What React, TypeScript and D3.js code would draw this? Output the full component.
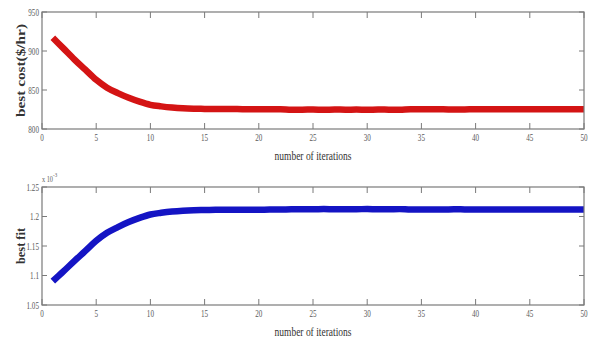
import React from "react";
import * as d3 from "d3";

const iterations = d3.range(1, 51);
const bestCost = [
  917, 903, 889, 876, 863, 853, 846, 840, 835, 831,
  829, 827.5, 826.5, 826, 825.8, 825.6, 825.5, 825.5, 825.4, 825.4,
  825.3, 825.3, 824.8, 824.8, 825, 824.6, 825, 824.7, 824.9, 824.6,
  825, 824.8, 824.7, 825.2, 825.2, 825.2, 825.2, 824.9, 825.1, 825.2,
  825.2, 825.2, 825.2, 825.2, 825.2, 825.2, 825.2, 825.2, 825.2, 825.2,
];
const bestFit = [
  1.0905, 1.1074, 1.1249, 1.1416, 1.1587, 1.1723, 1.182, 1.1905, 1.1976, 1.2034,
  1.2063, 1.2085, 1.2099, 1.2107, 1.211, 1.2113, 1.2114, 1.2114, 1.2116, 1.2116,
  1.2117, 1.2117, 1.2124, 1.2124, 1.2121, 1.2127, 1.2121, 1.2125, 1.2123, 1.2127,
  1.2121, 1.2124, 1.2125, 1.2118, 1.2118, 1.2118, 1.2118, 1.2123, 1.212, 1.2118,
  1.2118, 1.2118, 1.2118, 1.2118, 1.2118, 1.2118, 1.2118, 1.2118, 1.2118, 1.2118,
];
const xTicks = [0, 5, 10, 15, 20, 25, 30, 35, 40, 45, 50];
const costTicks = [800, 850, 900, 950];
const fitTicks = [1.05, 1.1, 1.15, 1.2, 1.25];

const FONT = "'Liberation Serif', 'Times New Roman', serif";
const AXIS = "#7a7a7a";
const LABEL = "#5a5a5a";

function Narrow({ x, y, text, anchor = "middle", size = 11, sx = 0.7, weight = "normal", fill = LABEL }: any) {
  return (
    <g transform={`translate(${x},${y}) scale(${sx},1)`}>
      <text textAnchor={anchor} fontFamily={FONT} fontSize={size} fontWeight={weight} fill={fill}>
        {text}
      </text>
    </g>
  );
}

function Panel({ top, bottom, yDomain, yTicks, values, color, yLabel, yLabelLen, fmt }: any) {
  const left = 42;
  const right = 584;
  const x = d3.scaleLinear().domain([0, 50]).range([left, right]);
  const y = d3.scaleLinear().domain(yDomain).range([bottom, top]);
  const line = d3
    .line<number>()
    .x((_, i) => x(iterations[i]))
    .y((d) => y(d))
    .curve(d3.curveMonotoneX);
  const tx = 6;
  const ty = 5;
  return (
    <g>
      <rect x={left} y={top} width={right - left} height={bottom - top} fill="white" stroke="none" />
      <path d={line(values) || ""} fill="none" stroke={color} strokeWidth={6.5} strokeLinejoin="round" />
      <rect x={left} y={top} width={right - left} height={bottom - top} fill="none" stroke={AXIS} strokeWidth={1.2} />
      {xTicks.map((t) => (
        <g key={"x" + t}>
          <line x1={x(t)} x2={x(t)} y1={bottom} y2={bottom - tx} stroke={AXIS} strokeWidth={1} />
          <line x1={x(t)} x2={x(t)} y1={top} y2={top + tx} stroke={AXIS} strokeWidth={1} />
          <Narrow x={x(t)} y={bottom + 12} text={String(t)} size={11} sx={0.65} />
        </g>
      ))}
      {yTicks.map((t: number) => (
        <g key={"y" + t}>
          <line x1={left} x2={left + ty} y1={y(t)} y2={y(t)} stroke={AXIS} strokeWidth={1} />
          <line x1={right} x2={right - ty} y1={y(t)} y2={y(t)} stroke={AXIS} strokeWidth={1} />
          <Narrow x={left - 3} y={y(t) + 3.5} text={fmt(t)} anchor="end" size={11} sx={0.65} />
        </g>
      ))}
      <text
        x={x(25)}
        y={bottom + 31}
        textAnchor="middle"
        fontFamily={FONT}
        fontSize={11.5}
        fill="#333"
        textLength={77}
        lengthAdjust="spacingAndGlyphs"
      >
        number of iterations
      </text>
      <text
        transform={`translate(25,${(top + bottom) / 2}) rotate(-90)`}
        textAnchor="middle"
        fontFamily={FONT}
        fontSize={11.5}
        fontWeight="bold"
        fill="#333"
        textLength={yLabelLen}
        lengthAdjust="spacingAndGlyphs"
      >
        {yLabel}
      </text>
    </g>
  );
}

export default function App() {
  return (
    <svg width={590} height={339} style={{ position: "absolute", left: 0, top: 0, background: "white" }}>
      <rect width={590} height={339} fill="white" />
      <Panel
        top={12}
        bottom={129}
        yDomain={[800, 950]}
        yTicks={costTicks}
        values={bestCost}
        color="#d41414"
        yLabel="best cost($/hr)"
        yLabelLen={93}
        fmt={(t: number) => String(t)}
      />
      <Panel
        top={187}
        bottom={305}
        yDomain={[1.05, 1.25]}
        yTicks={fitTicks}
        values={bestFit}
        color="#1414c4"
        yLabel="best fit"
        yLabelLen={36}
        fmt={(t: number) => d3.format("")(+t.toFixed(2))}
      />
      <Narrow x={42} y={182} text="x 10" anchor="start" size={9} sx={0.7} />
      <Narrow x={53} y={177} text="-3" anchor="start" size={7} sx={0.7} />
    </svg>
  );
}
